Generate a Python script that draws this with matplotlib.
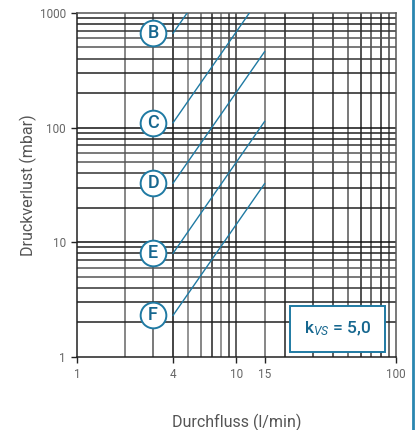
import numpy as np
import matplotlib.pyplot as plt
from matplotlib.lines import Line2D

plt.rcParams['font.family'] = ['Roboto', 'DejaVu Sans']
plt.rcParams['mathtext.fontset'] = 'custom'
plt.rcParams['mathtext.rm'] = 'Roboto'
plt.rcParams['mathtext.it'] = 'Roboto:italic'

# data
labels = ['B', 'C', 'D', 'E', 'F']
flow = [4, 15]                       # l/min, start and end of each line
dp_start = [664, 110, 32.7, 8.0, 2.3]   # mbar at 4 l/min
dp_end = [9340, 1550, 459, 113, 32.4]   # mbar at 15 l/min
label_x = 3
xticks = [1, 4, 10, 15, 100]
yticks = [1, 10, 100, 1000]
kvs_text = r'k$_{\it{VS}}$ = 5,0'

blue = '#1f7aa3'
dark_blue = '#16678f'

fig = plt.figure(figsize=(4.16, 4.30), dpi=100)
ax = fig.add_axes([0.185, 0.170, 0.767, 0.800])
ax.set_xscale('log')
ax.set_yscale('log')
ax.set_xlim(1, 100)
ax.set_ylim(1, 1000)

# grid lines
vx = [2, 3, 4, 5, 6, 7, 8, 9, 10, 15, 20, 30, 40, 50, 60, 70, 80, 90]
vcol = ['#666', '#555', '#111', '#777', '#666', '#222', '#777', '#333', '#333', '#666',
        '#222', '#333', '#333', '#555', '#222', '#444', '#222', '#444']
for v, c in zip(vx, vcol):
    ax.axvline(v, color=c, lw=1.1, zorder=1)
hy = []
for d in [1, 10, 100]:
    hy += [d * k for k in range(2, 10)]
hy += [10, 100]
hcol = ['#222', '#222', '#333', '#555', '#555', '#333', '#222', '#222']
for i, h in enumerate(hy):
    c = '#111' if h in (10, 100) else hcol[(i % 8)]
    ax.axhline(h, color=c, lw=1.1, zorder=1)

for lab, a, b in zip(labels, dp_start, dp_end):
    ax.plot(flow, [a, b], color=blue, lw=1.0, zorder=3)
    ax.plot(label_x, a, 'o', ms=18.5, mfc='white', mec=blue, mew=1.4, zorder=4, clip_on=False)
    ax.text(label_x, a, lab, color=dark_blue, fontsize=13, fontweight='medium',
            ha='center', va='center', zorder=5)

ax.text(0.817, 0.081, kvs_text, transform=ax.transAxes, ha='center', va='center',
        fontsize=12.5, fontweight='medium', color=dark_blue, zorder=6,
        bbox=dict(boxstyle='square,pad=0.8', fc='white', ec=blue, lw=1.4))

ax.set_xticks(xticks)
ax.set_xticklabels([str(t) for t in xticks])
ax.set_yticks(yticks)
ax.set_yticklabels([str(t) for t in yticks])
ax.xaxis.set_minor_locator(plt.NullLocator())
ax.yaxis.set_minor_locator(plt.NullLocator())
ax.tick_params(length=4, width=1, color='#222', labelsize=8.5, labelcolor='#666', pad=4)

for s in ax.spines.values():
    s.set_color('#222')
    s.set_linewidth(1.1)
ax.spines['top'].set_color('#555')
ax.spines['right'].set_color('#555')

ax.set_ylabel('Druckverlust (mbar)', fontsize=11.5, color='#555')
ax.set_xlabel('Durchfluss (l/min)', fontsize=11.5, color='#555')
ax.yaxis.set_label_coords(-0.125, 0.5)
ax.xaxis.set_label_coords(0.5, -0.165)

fig.add_artist(Line2D([0.993, 0.993], [0, 1], color='#2a86b0', lw=2, transform=fig.transFigure))

fig.savefig('out.png', dpi=100)
